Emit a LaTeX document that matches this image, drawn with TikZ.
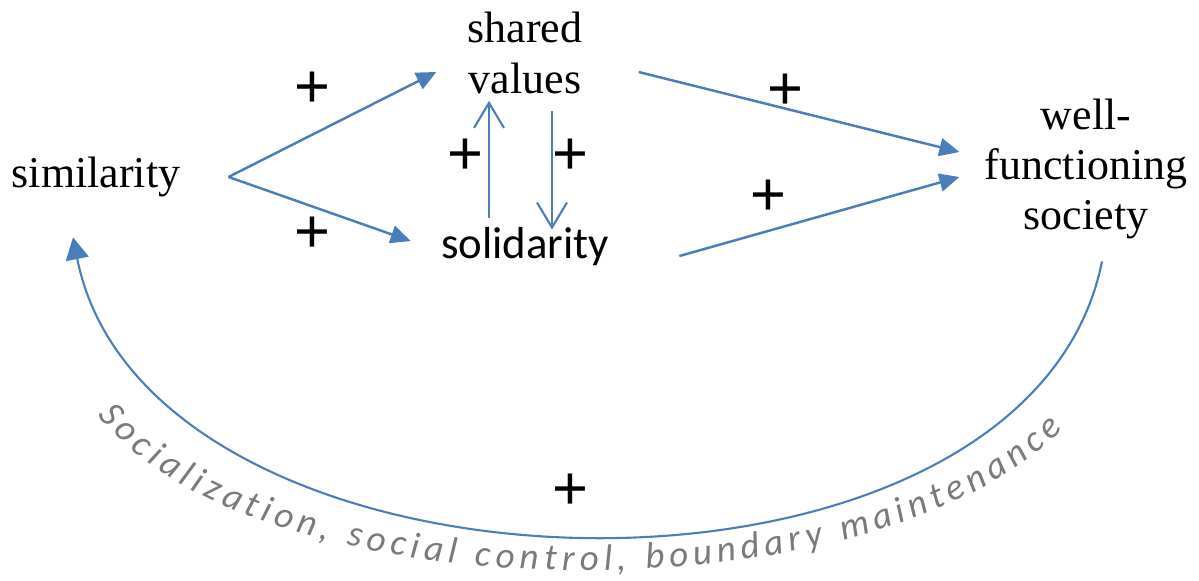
\documentclass[tikz,border=0pt]{standalone}
\usepackage{fontspec}
\setmainfont{Liberation Serif}
\newfontfamily\carlito{Carlito}
\newfontfamily\plusfont{Liberation Sans}
\usetikzlibrary{arrows.meta,decorations.text}
\definecolor{linkblue}{RGB}{74,126,187}
\definecolor{notegray}{RGB}{122,122,122}
\begin{document}
\begin{tikzpicture}[>={Triangle[length=0.4cm,width=0.36cm]},
  concept/.style={inner sep=0pt,align=center,font=\fontsize{25}{28.5}\selectfont},
  link/.style={->,linkblue,line width=1.4pt},
  barb/.style={-{Straight Barb[length=0.5cm,width=0.6cm]},line width=1.2pt},
  plus/.style={inner sep=0pt,font=\plusfont\fontsize{35}{35}\selectfont}]
  \useasboundingbox (0,0) rectangle (23.98,11.6);
  \node[concept] (similarity) at (1.92,8.06) {similarity};
  \node[concept] (values) at (10.5,10.54) {shared\\values};
  \node[concept,font=\carlito\fontsize{25.5}{30}\selectfont,anchor=base] (solidarity) at (10.5,6.42) {solidarity};
  \node[concept] (society) at (21.72,8.22) {well-\\functioning\\society};
  \coordinate (fork) at ([xshift=0.96cm]similarity.east);
  \coordinate (loopstart) at ([shift={(0.32,-0.44)}]society.south);
  \coordinate (loopend) at ([shift={(-0.46,-0.8)}]similarity.south);
  \coordinate (notestart) at (1.96,3.3);
  \coordinate (noteend) at (21.24,3.0);
  \draw[link] (fork) -- ([shift={(-0.62,-0.38)}]values.west);
  \draw[link] (fork) -- ([shift={(-0.6,0.12)}]solidarity.west);
  \draw[link,barb] ([shift={(-0.72,0.2)}]solidarity.north) -- ([shift={(-0.72,-0.14)}]values.south);
  \draw[link,barb] ([shift={(0.54,-0.34)}]values.south) -- ([shift={(0.54,-0.04)}]solidarity.north);
  \draw[link] ([shift={(1.12,-0.38)}]values.east) -- ([shift={(-0.5,0.34)}]society.west);
  \draw[link] ([shift={(1.4,-0.18)}]solidarity.east) -- ([shift={(-0.5,-0.16)}]society.west);
  \draw[link,line width=1.2pt,>={Triangle[length=0.44cm,width=0.46cm]}] (loopstart) .. controls +(-1.52,-7.6) and +(1.52,-7.66) .. (loopend);
  \path[decorate,decoration={text along path,text align=fit to path,text color=notegray,
    text={|\carlito\itshape\fontsize{21}{25}\selectfont|Socialization, social control, boundary maintenance}}]
    (notestart) .. controls +(3.0,-3.94) and +(-3.94,-3.94) .. (noteend);
  \node[plus] (p1) at (6.24,9.8) {+};
  \node[plus] (p2) at (6.24,6.9) {+};
  \node[plus] (p3) at (9.3,8.46) {+};
  \node[plus] (p4) at (11.4,8.46) {+};
  \node[plus] (p5) at (15.7,9.76) {+};
  \node[plus] (p6) at (15.36,7.64) {+};
  \node[plus] (p7) at (11.4,1.76) {+};
\end{tikzpicture}
\end{document}
